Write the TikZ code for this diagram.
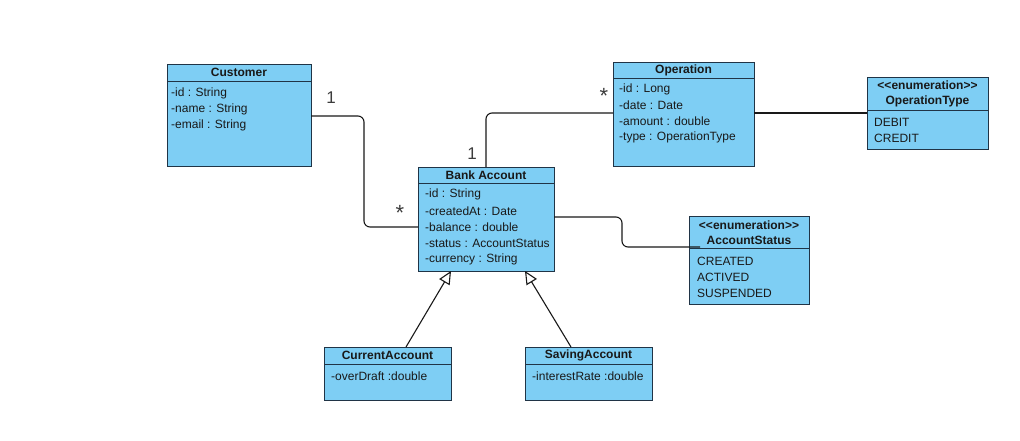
\documentclass[tikz,border=0pt]{standalone}
\usepackage{fontspec}
\setmainfont{Liberation Sans}[Ligatures=TeXOff]
\usetikzlibrary{arrows.meta}
\definecolor{classfill}{RGB}{126,206,244}
\definecolor{classdraw}{RGB}{32,52,70}
\definecolor{ink}{RGB}{25,25,25}
\definecolor{multink}{RGB}{60,60,60}
\tikzset{
  classbox/.style={draw=classdraw, fill=classfill, line width=1pt, inner sep=0pt, outer sep=0pt, anchor=north west},
  classline/.style={draw=classdraw, line width=1pt},
  title/.style={font=\fontsize{12}{14}\selectfont\bfseries, text=ink, inner sep=0pt},
  attr/.style={font=\fontsize{12}{14}\selectfont, text=ink, inner sep=0pt, anchor=west},
  conn/.style={draw=ink, line width=1.1pt, rounded corners=6pt},
  inherit/.style={draw=ink, line width=1.1pt, -{Triangle[open, length=13pt, width=12pt, fill=white]}},
  mult/.style={font=\fontsize{17}{19}\selectfont, text=multink, inner sep=0pt},
  star/.style={font=\fontsize{22}{24}\selectfont, text=multink, inner sep=0pt}
}
\begin{document}
\begin{tikzpicture}[x=1pt, y=-1pt]
\useasboundingbox (0,0) rectangle (1020,440);

% Customer
\node[classbox, minimum width=144pt, minimum height=102pt] (cust) at (167,64) {};
\draw[classline] (cust.west |- 0,81) -- (cust.east |- 0,81);
\node[title] (cust-t) at (239,72) {Customer};
\node[attr] (cust-a1) at (171,93) {-id : String};
\node[attr] (cust-a2) at (171,109) {-name : String};
\node[attr] (cust-a3) at (171,125) {-email : String};

% Operation
\node[classbox, minimum width=141pt, minimum height=104pt] (op) at (613,62) {};
\draw[classline] (op.west |- 0,78) -- (op.east |- 0,78);
\node[title] (op-t) at (683.5,70) {Operation};
\node[attr] (op-a1) at (619,89) {-id : Long};
\node[attr] (op-a2) at (619,105) {-date : Date};
\node[attr] (op-a3) at (619,121) {-amount : double};
\node[attr] (op-a4) at (619,137) {-type : OperationType};

% OperationType
\node[classbox, minimum width=121pt, minimum height=72pt] (optype) at (867,77) {};
\draw[classline] (optype.west |- 0,110) -- (optype.east |- 0,110);
\node[title] (optype-s) at (927.5,85) {<<enumeration>>};
\node[title] (optype-t) at (927.5,101) {OperationType};
\node[attr] (optype-a1) at (874,122) {DEBIT};
\node[attr] (optype-a2) at (874,138) {CREDIT};

% Bank Account
\node[classbox, minimum width=136pt, minimum height=104pt] (bank) at (418,167) {};
\draw[classline] (bank.west |- 0,183) -- (bank.east |- 0,183);
\node[title] (bank-t) at (486,175) {Bank Account};
\node[attr] (bank-a1) at (425,194) {-id : String};
\node[attr] (bank-a2) at (425,211) {-createdAt : Date};
\node[attr] (bank-a3) at (425,227) {-balance : double};
\node[attr] (bank-a4) at (425,243) {-status : AccountStatus};
\node[attr] (bank-a5) at (425,259) {-currency : String};

% AccountStatus
\node[classbox, minimum width=120pt, minimum height=88pt] (status) at (689,216) {};
\draw[classline] (status.west |- 0,248) -- (status.east |- 0,248);
\node[title] (status-s) at (749,225) {<<enumeration>>};
\node[title] (status-t) at (749,240) {AccountStatus};
\node[attr] (status-a1) at (697,261) {CREATED};
\node[attr] (status-a2) at (697,277) {ACTIVED};
\node[attr] (status-a3) at (697,293) {SUSPENDED};

% CurrentAccount
\node[classbox, minimum width=127pt, minimum height=53pt] (curr) at (324,347) {};
\draw[classline] (curr.west |- 0,364) -- (curr.east |- 0,364);
\node[title] (curr-t) at (387.5,355.5) {CurrentAccount};
\node[attr] (curr-a1) at (331,376) {-overDraft :double};

% SavingAccount
\node[classbox, minimum width=127pt, minimum height=53pt] (sav) at (525,347) {};
\draw[classline] (sav.west |- 0,364) -- (sav.east |- 0,364);
\node[title] (sav-t) at (588.5,355.5) {SavingAccount};
\node[attr] (sav-a1) at (532,376) {-interestRate :double};

% Associations
\draw[conn] (cust.east |- 0,116) -| (364,227) -- (bank.west |- 0,227);
\draw[conn] (bank.north -| 486,0) |- (op.west |- 0,113);
\draw[conn] (op.east |- 0,113) -- (optype.west |- 0,113);
\coordinate (status-in) at (700,247);
\draw[conn] (bank.east |- 0,217) -| (622,247) -- (status-in);

% Multiplicities
\node[mult] (m-cust) at (331,98) {1};
\node[star] (m-bank1) at (400,213) {*};
\node[mult] (m-bank2) at (472,154) {1};
\node[star] (m-op) at (604,96) {*};

% Generalisations
\draw[inherit] (curr.north -| 406,0) -- (bank.south -| 451,0);
\draw[inherit] (sav.north -| 571,0) -- (bank.south -| 525,0);
\end{tikzpicture}
\end{document}
